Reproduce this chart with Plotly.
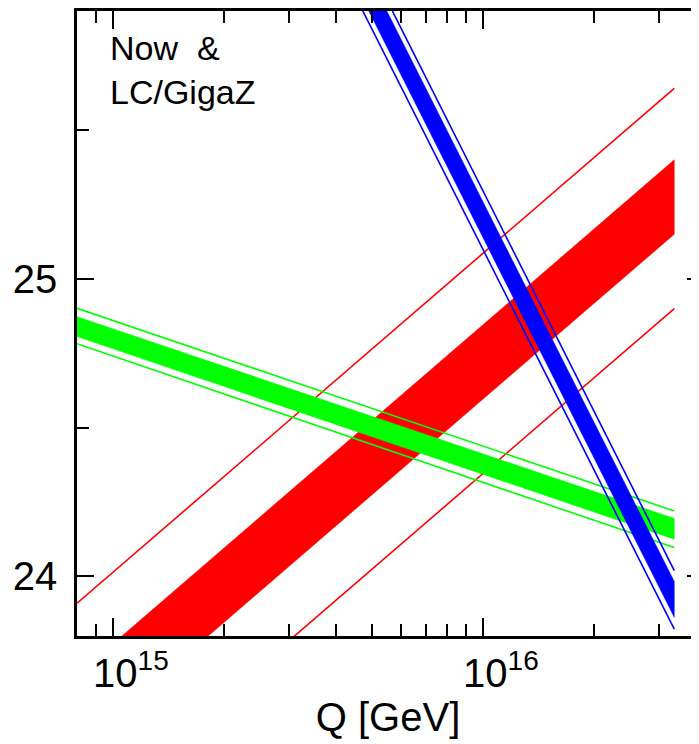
import plotly.graph_objects as go

# Q end points of every line [GeV]
q_ends = [8e14, 3.29e16]

# inverse couplings at the two end points
# red band (rising)
red_lc_hi = [23.67, 25.40]
red_lc_lo = [23.42, 25.15]
red_now_hi = [23.91, 25.64]
red_now_lo = [23.17, 24.90]
# green band (slowly falling)
green_lc_hi = [24.873, 24.195]
green_lc_lo = [24.806, 24.125]
green_now_hi = [24.901, 24.220]
green_now_lo = [24.782, 24.097]
# blue band (steep)
blue_lc_hi = [27.966, 23.983]
blue_lc_lo = [27.846, 23.863]
blue_now_hi = [28.003, 24.020]
blue_now_lo = [27.806, 23.823]

x_tick_vals = [1e15, 1e16]
x_tick_text = ["10<sup>15</sup>", "10<sup>16</sup>"]
x_minor_vals = [8e14, 9e14, 2e15, 3e15, 4e15, 5e15, 6e15, 7e15, 8e15, 9e15, 2e16, 3e16]
y_tick_vals = [24, 25]
y_minor_vals = [24.5, 25.5]

# blue goes on top, on the overlaying axis that carries the right-hand ticks
bands = [
    ("#ff0000", 'y', red_lc_hi, red_lc_lo, red_now_hi, red_now_lo),
    ("#00ff00", 'y', green_lc_hi, green_lc_lo, green_now_hi, green_now_lo),
    ("#0000ff", 'y2', blue_lc_hi, blue_lc_lo, blue_now_hi, blue_now_lo),
]

fig = go.Figure()

for color, yax, lc_hi, lc_lo, now_hi, now_lo in bands:
    # filled band = LC/GigaZ precision
    fig.add_trace(go.Scatter(
        x=q_ends + q_ends[::-1],
        y=lc_hi + lc_lo[::-1],
        yaxis=yax,
        mode='lines',
        fill='toself',
        fillcolor=color,
        line=dict(color=color, width=0.5),
        hoverinfo='skip',
        showlegend=False
    ))
    # outer lines = present precision
    for edge in (now_hi, now_lo):
        fig.add_trace(go.Scatter(
            x=q_ends,
            y=edge,
            yaxis=yax,
            mode='lines',
            line=dict(color=color, width=1.6),
            hoverinfo='skip',
            showlegend=False
        ))

fig.add_annotation(
    text="Now  &<br>LC/GigaZ",
    xref='paper', yref='paper',
    x=0.05, y=0.975,
    xanchor='left', yanchor='top',
    align='left',
    showarrow=False,
    font=dict(family='Liberation Sans, Arial', size=34, color='black')
)

axis_font = dict(family='Liberation Sans, Arial', size=40, color='black')

# the page body adds 8px on the left/top, so the figure is 8px smaller
fig.update_layout(
    width=691,
    height=736,
    margin=dict(l=69, r=0, t=0, b=108),
    plot_bgcolor='white',
    paper_bgcolor='white',
    xaxis=dict(
        type='log',
        range=[14.903, 16.584],
        showgrid=False,
        zeroline=False,
        showline=True,
        linecolor='black',
        linewidth=2.5,
        mirror='ticks',
        ticks='inside',
        ticklen=18,
        tickwidth=2,
        tickcolor='black',
        tickvals=x_tick_vals,
        ticktext=x_tick_text,
        tickfont=axis_font,
        ticklabelshift=18,
        minor=dict(ticks='inside', ticklen=12, tickwidth=2, tickcolor='black',
                   tickvals=x_minor_vals, showgrid=False),
        title=dict(text='Q [GeV]', font=axis_font, standoff=10)
    ),
    yaxis=dict(
        range=[23.8, 25.9],
        showgrid=False,
        zeroline=False,
        showline=True,
        linecolor='black',
        linewidth=2.5,
        ticks='inside',
        ticklen=17,
        tickwidth=2,
        tickcolor='black',
        tickvals=y_tick_vals,
        ticktext=[str(v) for v in y_tick_vals],
        tickfont=axis_font,
        ticklabelstandoff=9,
        minor=dict(ticks='inside', ticklen=12, tickwidth=2, tickcolor='black',
                   tickvals=y_minor_vals, showgrid=False)
    ),
    # right-hand ticks only, the frame edge itself is cut off in the original
    yaxis2=dict(
        overlaying='y',
        side='right',
        range=[23.8, 25.9],
        showgrid=False,
        zeroline=False,
        showline=False,
        ticks='inside',
        ticklen=12,
        tickwidth=2,
        tickcolor='black',
        tickvals=y_tick_vals,
        showticklabels=False,
        minor=dict(ticks='inside', ticklen=6, tickwidth=2, tickcolor='black',
                   tickvals=y_minor_vals, showgrid=False)
    )
)

fig.write_html("out.html")
